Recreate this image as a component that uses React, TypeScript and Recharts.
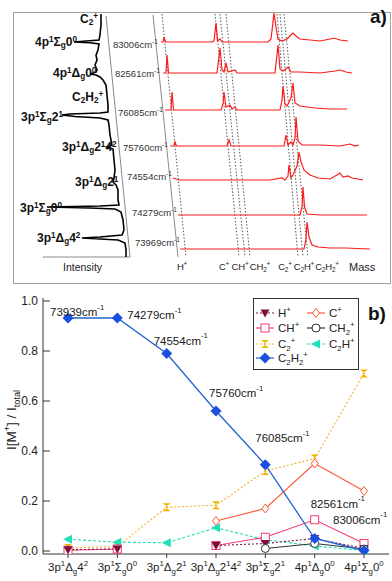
import React from "react";
import { ComposedChart, LineChart, Line, XAxis, YAxis, Legend, LabelList } from "recharts";

const FONT = '"Liberation Sans", Arial, Helvetica, sans-serif';

// ---------- panel a): TOF mass spectra (offset traces) + REMPI spectrum ----------
const TRACE_WAVENUMBERS = ["83006", "82561", "76085", "75760", "74554", "74279", "73969"];
const TRACE_BASELINES = [42, 73, 110, 146, 180, 215, 249];
// [flight-time channel, signal]
const TRACE_POINTS: number[][][] = [
  [[161, 0], [163, 0], [164, 5], [165.5, 0], [212, 0], [214, 1], [216, 19], [217.5, 1], [220, 3], [222, 0], [268, 0], [271, 3], [273, 20], [274, 29], [276, 15], [278, 3], [282, 1], [287, 3], [291, 7], [293, 9], [296, 6], [300, 3], [310, 2], [320, 1], [330, 3], [334, 4], [340, 2], [348, 1]],
  [[163, 0], [166, 0], [167, 18], [168.5, 0], [217, 0], [220, 25], [222, 3], [224, 1], [226, 10], [228, 1], [235, 3], [237, 0], [275, 0], [278, 28], [280, 4], [283, 2], [286, 4], [288, 6], [291, 1], [300, 1], [320, 0], [335, 2], [340, 3], [346, 1], [352, 0]],
  [[165, 0], [171, 0], [172, 18], [173.5, 0], [221, 0], [223, 6], [224, 18], [226, 3], [230, 5], [232, 1], [235, 3], [237, 0], [280, 0], [282, 10], [283, 24], [285, 6], [287, 4], [291, 12], [293, 27], [295, 7], [300, 4], [315, 2], [330, 1], [347, 1]],
  [[170, 0], [174, 0], [175, 4], [176.5, 0], [227, 0], [229, 6], [231, 0], [284, 0], [286, 11], [288, 1], [291, 4], [293, 1], [295, 8], [296, 29], [298, 5], [302, 1], [320, 1], [340, 0], [350, 2], [355, 0], [359, 1]],
  [[173, 2], [176, 1], [180, 0], [270, 0], [282, 2], [285, 0], [288, 4], [289, 15], [291, 2], [293, 5], [297, 14], [299, 28], [301, 18], [304, 10], [310, 5], [318, 2], [330, 1], [337, 5], [340, 7], [343, 3], [348, 4], [352, 2], [358, 1], [363, 0]],
  [[178, 0], [300, 0], [302, 8], [303, 28], [304.5, 8], [307, 1], [320, 0], [367, 0]],
  [[180, 0], [304, 0], [306, 10], [307, 27], [309, 12], [312, 4], [318, 2], [330, 1], [345, 1], [370, 0]],
];
// [intensity, photon energy position]
const REMPI_TRACE: number[][] = [
  [101, 14], [101, 25], [100, 35], [99, 40], [80, 41.5], [74, 42], [90, 42.8], [99, 44], [98, 50], [96, 55], [97, 60], [95, 65], [97, 70], [96, 72], [90, 74], [96, 75], [100, 77], [103, 80], [106, 85], [107, 95], [108, 105], [108, 112], [100, 113], [70, 114], [62, 115], [75, 116.5], [100, 118], [108, 120], [109, 125], [110, 135], [111, 140], [112, 145], [107, 147], [113, 149], [114, 160], [115, 170], [114, 178], [113, 182], [116, 185], [118, 190], [118, 200], [119, 205], [100, 206], [47, 207], [90, 208], [115, 209], [121, 212], [123, 220], [124, 230], [122, 235], [100, 237], [82, 238], [100, 239], [118, 240], [125, 243], [126, 250], [126, 257],
];
const GUIDE_TOP_X = [162, 215, 220, 226, 277, 280, 284];
const GUIDE_BOTTOM_X = [186, 239, 245, 250, 298, 303, 308];
const GUIDE_Y = [14, 257];

const STATE_LABELS_A = [
  { s: "C_2^+", x: 80, y: 19 },
  { s: "4p^1Σ_g0^0", x: 35, y: 42 },
  { s: "4p^1Δ_g0^0", x: 53, y: 73 },
  { s: "C_2H_2^+", x: 72, y: 97 },
  { s: "3p^1Σ_g2^1", x: 21, y: 117 },
  { s: "3p^1Δ_g2^14^2", x: 62, y: 147 },
  { s: "3p^1Δ_g2^1", x: 75, y: 182 },
  { s: "3p^1Σ_g0^0", x: 20, y: 208 },
  { s: "3p^1Δ_g4^2", x: 37, y: 238 },
];
const WN_LABEL_POS = [
  [113, 45], [115, 74], [118, 113], [123, 148], [127, 177], [132, 213], [135, 243],
];
const MASS_LABELS = [
  { s: "H^+", x: 182 }, { s: "C^+", x: 224 }, { s: "CH^+", x: 240 }, { s: "CH_2^+", x: 260 },
  { s: "C_2^+", x: 285 }, { s: "C_2H^+", x: 304 }, { s: "C_2H_2^+", x: 327 },
];

// ---------- panel b): relative ion yields ----------
const STATES = ["3p^1Δ_g4^2", "3p^1Σ_g0^0", "3p^1Δ_g2^1", "3p^1Δ_g2^14^2", "3p^1Σ_g2^1", "4p^1Δ_g0^0", "4p^1Σ_g0^0"];
const H_PLUS = [0.005, 0.008, null, 0.022, 0.03, 0.05, 0.01];
const CH_PLUS = [0.003, 0.008, null, 0.022, 0.055, 0.125, 0.03];
const C_PLUS = [null, null, null, 0.12, 0.17, 0.35, 0.24];
const CH2_PLUS = [null, null, null, null, 0.01, 0.03, 0.008];
const C2_PLUS = [0.012, 0.018, 0.175, 0.183, 0.32, 0.37, 0.71];
const C2H_PLUS = [0.047, 0.035, 0.033, 0.093, 0.045, 0.02, 0.002];
const C2H2_PLUS = [0.932, 0.932, 0.79, 0.56, 0.345, 0.05, 0.002];
const WAVENUMBERS = ["73939", "74279", "74554", "75760", "76085", "82561", "83006"];
const Y_TICKS = [0, 0.2, 0.4, 0.6, 0.8, 1.0];

const WN_OFFSETS = [[-18, -6], [10, -3], [-13, -13], [-7, -18], [-10, -27], [-4, -35], [-31, -31]];

type Kind = "triDown" | "diamondOpen" | "squareOpen" | "circleOpen" | "hourglass" | "triLeft" | "diamond";
const SERIES: { key: string; name: string; values: (number | null)[]; color: string; mark: string; dash?: string; kind: Kind }[] = [
  { key: "c2", name: "C_2^+", values: C2_PLUS, color: "#f7ad2a", mark: "#efb100", dash: "2 2", kind: "hourglass" },
  { key: "c2h", name: "C_2H^+", values: C2H_PLUS, color: "#1fe0b8", mark: "#1fe0b8", dash: "3 2", kind: "triLeft" },
  { key: "c", name: "C^+", values: C_PLUS, color: "#ff5a3a", mark: "#ff5a3a", kind: "diamondOpen" },
  { key: "ch", name: "CH^+", values: CH_PLUS, color: "#f43f6e", mark: "#f43f6e", kind: "squareOpen" },
  { key: "h", name: "H^+", values: H_PLUS, color: "#8a1748", mark: "#7c0f40", dash: "2 2", kind: "triDown" },
  { key: "ch2", name: "CH_2^+", values: CH2_PLUS, color: "#333333", mark: "#333333", kind: "circleOpen" },
  { key: "c2h2", name: "C_2H_2^+", values: C2H2_PLUS, color: "#2163d0", mark: "#1b4fe0", kind: "diamond" },
];
const LEGEND_ORDER = [["h", "c"], ["ch", "ch2"], ["c2", "c2h"], ["c2h2"]];

type Seg = { t: string; k: "n" | "sup" | "sub" };
function parseRich(s: string): Seg[] {
  const out: Seg[] = [];
  let buf = "";
  let i = 0;
  const flush = () => {
    if (buf) out.push({ t: buf, k: "n" });
    buf = "";
  };
  while (i < s.length) {
    const c = s[i];
    if (c === "^" || c === "_") {
      flush();
      let t = "";
      if (s[i + 1] === "{") {
        const j = s.indexOf("}", i + 2);
        t = s.slice(i + 2, j);
        i = j + 1;
      } else {
        t = s[i + 1];
        i += 2;
      }
      out.push({ t, k: c === "^" ? "sup" : "sub" });
    } else {
      buf += c;
      i++;
    }
  }
  flush();
  return out;
}

function svgRich(s: string, fs: number) {
  let shift = 0;
  return parseRich(s).map((seg, i) => {
    const target = seg.k === "sup" ? -0.45 * fs : seg.k === "sub" ? 0.3 * fs : 0;
    const dy = target - shift;
    shift = target;
    return (
      <tspan key={i} dy={dy} fontSize={seg.k === "n" ? fs : fs * 0.68}>
        {seg.t}
      </tspan>
    );
  });
}

function HtmlRich({ s }: { s: string }) {
  return (
    <>
      {parseRich(s).map((seg, i) =>
        seg.k === "n" ? (
          <span key={i}>{seg.t}</span>
        ) : (
          <span key={i} style={{ fontSize: "0.68em", position: "relative", top: seg.k === "sup" ? "-0.55em" : "0.3em" }}>
            {seg.t}
          </span>
        )
      )}
    </>
  );
}

function Marker({ kind, cx, cy, color }: { kind: Kind; cx: number; cy: number; color: string }) {
  switch (kind) {
    case "diamond":
      return <polygon points={`${cx},${cy - 5.5} ${cx + 5.5},${cy} ${cx},${cy + 5.5} ${cx - 5.5},${cy}`} fill={color} />;
    case "diamondOpen":
      return <polygon points={`${cx},${cy - 4.5} ${cx + 3.5},${cy} ${cx},${cy + 4.5} ${cx - 3.5},${cy}`} fill="#fff" stroke={color} strokeWidth={1} />;
    case "squareOpen":
      return <rect x={cx - 4} y={cy - 4} width={8} height={8} fill="#fff" stroke={color} strokeWidth={1} />;
    case "circleOpen":
      return <circle cx={cx} cy={cy} r={4} fill="#fff" stroke={color} strokeWidth={1} />;
    case "triDown":
      return <polygon points={`${cx - 4.5},${cy - 3.5} ${cx + 4.5},${cy - 3.5} ${cx},${cy + 4.5}`} fill={color} />;
    case "triLeft":
      return <polygon points={`${cx - 5},${cy} ${cx + 4},${cy - 4.5} ${cx + 4},${cy + 4.5}`} fill={color} />;
    case "hourglass":
      return (
        <path d={`M${cx - 4},${cy - 4} L${cx + 4},${cy - 4} L${cx - 1.5},${cy} L${cx + 4},${cy + 4} L${cx - 4},${cy + 4} L${cx + 1.5},${cy} Z`} fill={color} />
      );
  }
  return null;
}

function SpectraPanel() {
  const traces = TRACE_POINTS.map((pts, r) => pts.map(([x, s]) => ({ x, y: TRACE_BASELINES[r] - s })));
  const rempi = REMPI_TRACE.map(([x, y]) => ({ x, y }));
  const guides = GUIDE_TOP_X.map((x0, i) => [
    { x: x0, y: GUIDE_Y[0] },
    { x: GUIDE_BOTTOM_X[i], y: GUIDE_Y[1] },
  ]);
  const frame = [
    [{ x: 106, y: 16 }, { x: 130, y: 257 }],
    [{ x: 43, y: 257 }, { x: 130, y: 257 }],
    [{ x: 153, y: 15 }, { x: 178, y: 257 }],
  ];
  const bold: React.CSSProperties = { position: "absolute", fontWeight: "bold", fontSize: 12, lineHeight: "14px", whiteSpace: "nowrap", color: "#111" };
  const plain: React.CSSProperties = { position: "absolute", fontSize: 9.5, lineHeight: "12px", whiteSpace: "nowrap", color: "#222" };
  return (
    <div style={{ position: "absolute", left: 0, top: 0, width: 392, height: 290 }}>
      <div style={{ position: "absolute", left: 13, top: 12, width: 376, height: 270, border: "1px solid #a0a0a0" }} />
      <ComposedChart width={392} height={290} margin={{ top: 0, right: 0, bottom: 0, left: 0 }} style={{ position: "absolute", left: 0, top: 0 }}>
        <XAxis type="number" dataKey="x" domain={[0, 392]} hide allowDataOverflow />
        <YAxis type="number" dataKey="y" domain={[0, 290]} reversed hide width={0} allowDataOverflow />
        {frame.map((g, i) => (
          <Line key={"f" + i} data={g} dataKey="y" stroke="#8a8a8a" strokeWidth={1} dot={false} activeDot={false} isAnimationActive={false} />
        ))}
        {guides.map((g, i) => (
          <Line key={"g" + i} data={g} dataKey="y" stroke="#444" strokeWidth={0.9} strokeDasharray="1.5 1.8" dot={false} activeDot={false} isAnimationActive={false} />
        ))}
        {traces.map((t, i) => (
          <Line key={"t" + i} data={t} dataKey="y" stroke="#ff1a1a" strokeWidth={1.2} dot={false} activeDot={false} isAnimationActive={false} />
        ))}
        <Line data={rempi} dataKey="y" stroke="#000" strokeWidth={1.6} dot={false} activeDot={false} isAnimationActive={false} />
      </ComposedChart>
      {STATE_LABELS_A.map((l, i) => (
        <div key={i} style={{ ...bold, left: l.x, top: l.y - 7 }}>
          <HtmlRich s={l.s} />
        </div>
      ))}
      {TRACE_WAVENUMBERS.map((w, i) => (
        <div key={w} style={{ ...plain, fontSize: 9.5, color: "#333", left: WN_LABEL_POS[i][0], top: WN_LABEL_POS[i][1] - 6 }}>
          <HtmlRich s={`${w}cm^{-1}`} />
        </div>
      ))}
      {MASS_LABELS.map((m, i) => (
        <div key={i} style={{ ...plain, left: m.x, top: 261, transform: "translateX(-50%)", letterSpacing: -0.2 }}>
          <HtmlRich s={m.s} />
        </div>
      ))}
      <div style={{ ...plain, left: 349, top: 261, fontSize: 11 }}>Mass</div>
      <div style={{ ...plain, left: 63, top: 261, fontSize: 10.5 }}>Intensity</div>
      <div style={{ position: "absolute", left: 370, top: 6, fontWeight: "bold", fontSize: 19, color: "#111" }}>a)</div>
    </div>
  );
}

function StateTick(props: any) {
  const { x, y, payload } = props;
  return (
    <text x={x} y={y + 13} textAnchor="middle" fontSize={11.5} fontFamily={FONT} fill="#222">
      {svgRich(payload.value, 11.5)}
    </text>
  );
}

function ValueTick(props: any) {
  const { x, y, payload } = props;
  return (
    <g>
      <line x1={x + 5} x2={x + 12} y1={y} y2={y} stroke="#333" strokeWidth={1} />
      <text x={x} y={y} textAnchor="end" dominantBaseline="central" fontSize={12} fontFamily={FONT} fill="#222">
        {payload.value.toFixed(1)}
      </text>
    </g>
  );
}

function YTitle(props: any) {
  const vb = props.viewBox || { y: 8, height: 256 };
  const cy = vb.y + vb.height / 2 - 6;
  return (
    <text transform={`translate(16,${cy}) rotate(-90)`} textAnchor="middle" fontSize={13.5} fontFamily={FONT} fill="#222">
      {svgRich("I[M^+] / I_{total}", 13.5)}
    </text>
  );
}

function WaveLabel(props: any) {
  const { x, y, index } = props;
  if (x == null || y == null) return null;
  const [dx, dy] = WN_OFFSETS[index];
  return (
    <text x={x + dx} y={y + dy} dominantBaseline="central" fontSize={11.5} fontFamily={FONT} fill="#1a1a1a">
      {svgRich(`${WAVENUMBERS[index]}cm^{-1}`, 11.5)}
    </text>
  );
}

function LegendBox() {
  const colX = [12, 63];
  const rowY = [15, 30, 46, 60];
  return (
    <svg width={106} height={72} style={{ display: "block" }}>
      <rect x={0.5} y={0.5} width={105} height={71} fill="#fff" stroke="#333" strokeWidth={1} />
      {LEGEND_ORDER.map((row, r) =>
        row.map((key, c) => {
          const s = SERIES.find((d) => d.key === key)!;
          const cx = colX[c];
          const cy = rowY[r];
          return (
            <g key={key}>
              <line x1={cx - 9} x2={cx + 9} y1={cy} y2={cy} stroke={s.color} strokeWidth={1.2} strokeDasharray={s.dash} />
              <Marker kind={s.kind} cx={cx} cy={cy} color={s.mark} />
              <text x={cx + 13} y={cy + 4} fontSize={11.5} fontFamily={FONT} fill="#222">
                {svgRich(s.name, 11.5)}
              </text>
            </g>
          );
        })
      )}
    </svg>
  );
}

function YieldPanel() {
  const data = STATES.map((st, i) => {
    const row: Record<string, any> = { state: st };
    SERIES.forEach((s) => (row[s.key] = s.values[i]));
    return row;
  });
  return (
    <div style={{ position: "absolute", left: 0, top: 290, width: 392, height: 291 }}>
      <LineChart width={392} height={291} data={data} margin={{ top: 8, right: 3, bottom: 3, left: 0 }}>
        <XAxis
          dataKey="state"
          interval={0}
          padding={{ left: 25, right: 25 }}
          height={24}
          tick={<StateTick />}
          tickSize={4}
          tickMargin={0}
          stroke="#333"
        />
        <YAxis
          domain={[-0.012, 1.012]}
          ticks={Y_TICKS}
          width={43}
          tickLine={false}
          tickSize={0}
          tickMargin={5}
          tick={<ValueTick />}
          stroke="#333"
          allowDataOverflow
          label={<YTitle />}
        />
        <YAxis yAxisId="frame" orientation="right" width={0} tick={false} tickLine={false} stroke="#333" domain={[0, 1]} />
        <Legend
          layout="horizontal"
          verticalAlign="middle"
          align="center"
          content={<LegendBox />}
          wrapperStyle={{ left: 253, top: 8, width: 106, height: 72, right: "auto", bottom: "auto" }}
        />
        {SERIES.map((s) => (
          <Line
            key={s.key}
            dataKey={s.key}
            name={s.name}
            stroke={s.color}
            strokeWidth={s.key === "c2h2" ? 1.3 : 1.1}
            strokeDasharray={s.dash}
            isAnimationActive={false}
            legendType="none"
            dot={(p: any) =>
              p.value == null || p.cy == null ? (
                <g key={`${s.key}-${p.index}`} />
              ) : (
                <Marker key={`${s.key}-${p.index}`} kind={s.kind} cx={p.cx} cy={p.cy} color={s.mark} />
              )
            }
            activeDot={false}
          >
            {s.key === "c2h2" ? <LabelList dataKey="c2h2" content={<WaveLabel />} /> : null}
          </Line>
        ))}
      </LineChart>
      <div style={{ position: "absolute", left: 368, top: 13, fontWeight: "bold", fontSize: 19, color: "#111" }}>b)</div>
    </div>
  );
}

export default function App() {
  return (
    <div style={{ position: "absolute", left: 0, top: 0, width: 392, height: 581, background: "#fff", fontFamily: FONT, overflow: "hidden" }}>
      <SpectraPanel />
      <YieldPanel />
    </div>
  );
}
